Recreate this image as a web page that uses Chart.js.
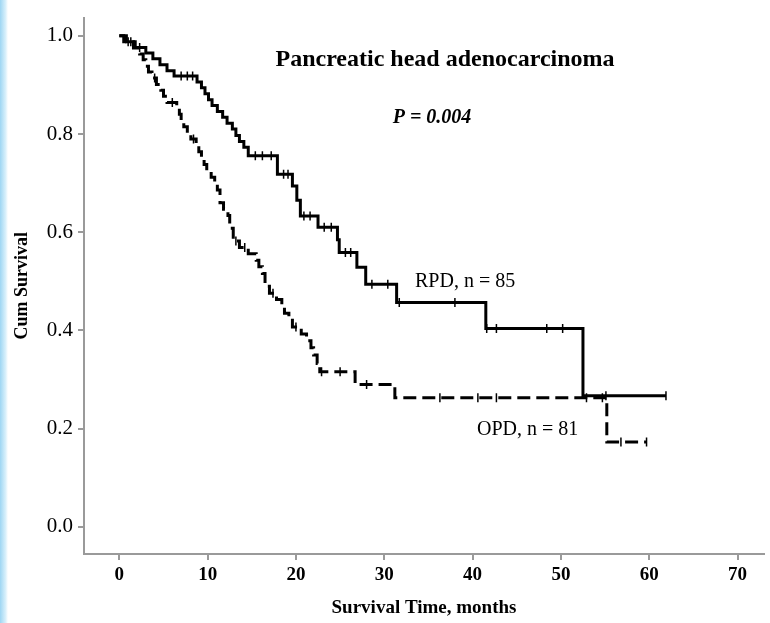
<!DOCTYPE html>
<html>
<head>
<meta charset="utf-8">
<script src="https://cdn.jsdelivr.net/npm/chart.js@4.4.1/dist/chart.umd.min.js"></script>
<style>
  html, body { margin: 0; padding: 0; background: #fff; }
  #wrap { position: relative; width: 770px; height: 623px; overflow: hidden; }
  #strip { position: absolute; left: 0; top: 0; width: 8px; height: 623px;
           background: linear-gradient(to right, #9ed6f3, #d9f0fb 70%, #ffffff); }
</style>
</head>
<body>
<div id="wrap">
  <canvas id="km" width="770" height="623"></canvas>
  <div id="strip"></div>
</div>
<script>
// RPD (solid) – event times (months) and survival after each event
const rpdTime = [0.5, 1.8, 3.0, 3.8, 4.6, 5.4, 6.2, 8.8, 9.3, 9.7, 10.1, 10.5, 11.1, 11.7, 12.2, 12.8,
                 13.2, 13.6, 14.1, 14.6, 17.9, 19.6, 20.1, 20.5, 22.5, 24.7, 24.9, 26.9, 27.9, 31.4, 41.5, 52.5];
const rpdSurv = [0.988, 0.976, 0.965, 0.953, 0.941, 0.929, 0.918, 0.906, 0.894, 0.882, 0.870, 0.858, 0.846, 0.834, 0.822, 0.810,
                 0.797, 0.785, 0.773, 0.756, 0.718, 0.694, 0.665, 0.633, 0.610, 0.585, 0.559, 0.529, 0.494, 0.457, 0.404, 0.267];
const rpdEnd = 61.9;
const rpdCensor = [1.0, 2.3, 7.0, 7.7, 8.3, 15.4, 16.2, 17.2, 18.6, 19.1, 20.9, 21.6, 23.2, 24.0, 25.6, 26.2,
                   28.6, 30.4, 31.7, 38.0, 41.6, 42.7, 48.4, 50.2, 55.1, 61.9];

// OPD (dashed)
const opdTime = [0.8, 1.6, 2.3, 2.7, 3.0, 3.3, 3.7, 4.2, 4.7, 5.0, 5.4, 6.5, 6.8, 7.0, 7.3, 7.7, 8.1, 8.7,
                 9.0, 9.3, 9.6, 9.9, 10.4, 10.8, 11.1, 11.4, 11.8, 12.3, 12.5, 12.9, 13.6, 14.6, 15.5, 15.8,
                 16.2, 16.5, 17.0, 17.8, 18.4, 18.7, 19.2, 19.6, 20.6, 21.2, 21.7, 22.0, 22.4, 22.7, 26.7, 31.2, 55.2];
const opdSurv = [0.988, 0.975, 0.963, 0.951, 0.938, 0.926, 0.914, 0.901, 0.889, 0.877, 0.864, 0.852, 0.840, 0.827, 0.815, 0.802, 0.790, 0.777,
                 0.764, 0.751, 0.738, 0.725, 0.712, 0.699, 0.686, 0.660, 0.647, 0.634, 0.608, 0.582, 0.569, 0.556, 0.543, 0.530,
                 0.516, 0.490, 0.476, 0.463, 0.449, 0.435, 0.421, 0.407, 0.393, 0.379, 0.365, 0.350, 0.333, 0.316, 0.290, 0.263, 0.173];
const opdEnd = 59.7;
const opdCensor = [1.3, 4.0, 6.0, 8.4, 13.2, 14.2, 17.4, 20.0, 22.9, 25.0, 28.0, 36.3, 40.6, 42.7, 52.9, 54.7, 56.8, 59.7];

const xTicks = [0, 10, 20, 30, 40, 50, 60, 70];
const yTicks = [0.0, 0.2, 0.4, 0.6, 0.8, 1.0];

const serif = '"Liberation Serif", "Times New Roman", serif';

function curve(times, surv, end) {
  const pts = [{ x: 0, y: 1 }];
  times.forEach((t, i) => pts.push({ x: t, y: surv[i] }));
  pts.push({ x: end, y: surv[surv.length - 1] });
  return pts;
}

function survAt(times, surv, t) {
  let s = 1;
  times.forEach((ti, i) => { if (ti <= t) s = surv[i]; });
  return s;
}

function marks(censor, times, surv) {
  return censor.map(t => ({ x: t, y: survAt(times, surv, t) }));
}

const textPlugin = {
  id: 'texts',
  afterDraw(chart) {
    const { ctx } = chart;
    ctx.save();
    ctx.fillStyle = '#000';
    ctx.textAlign = 'center';
    ctx.textBaseline = 'middle';
    ctx.font = 'bold 24px ' + serif;
    ctx.fillText('Pancreatic head adenocarcinoma', 445, 60);
    ctx.font = 'italic bold 20px ' + serif;
    ctx.fillText('P = 0.004', 432, 118);
    ctx.font = '20px ' + serif;
    ctx.textAlign = 'left';
    ctx.fillText('RPD, n = 85', 415, 282);
    ctx.fillText('OPD, n = 81', 477, 430);
    ctx.restore();
  }
};

const commonLine = {
  showLine: true,
  stepped: true,
  pointRadius: 0,
  borderColor: '#000',
  borderWidth: 3,
  fill: false,
  borderCapStyle: 'butt',
  borderJoinStyle: 'miter'
};
const commonMark = {
  showLine: false,
  pointStyle: 'line',
  rotation: 90,
  pointRadius: 4.5,
  pointBorderWidth: 1.5,
  borderColor: '#000',
  backgroundColor: '#000'
};

new Chart(document.getElementById('km').getContext('2d'), {
  type: 'scatter',
  data: {
    datasets: [
      { ...commonLine, label: 'RPD', data: curve(rpdTime, rpdSurv, rpdEnd) },
      { ...commonLine, label: 'OPD', data: curve(opdTime, opdSurv, opdEnd), borderDash: [13, 6] },
      { ...commonMark, label: 'RPD censored', data: marks(rpdCensor, rpdTime, rpdSurv) },
      { ...commonMark, label: 'OPD censored', data: marks(opdCensor, opdTime, opdSurv) }
    ]
  },
  options: {
    responsive: false,
    animation: false,
    layout: { padding: { top: 0, left: 0, right: 0, bottom: 0 } },
    plugins: { legend: { display: false }, tooltip: { enabled: false } },
    scales: {
      x: {
        type: 'linear',
        min: -4,
        max: 73.0,
        afterBuildTicks: s => { s.ticks = xTicks.map(v => ({ value: v })); },
        afterFit: s => { s.height = 69; },
        border: { color: '#9a9a9a', width: 2 },
        grid: { drawOnChartArea: false, drawTicks: true, tickLength: 6, color: '#9a9a9a', lineWidth: 2 },
        ticks: { color: '#000', padding: 4, font: { family: serif, size: 19, weight: 'bold' } },
        title: { display: true, text: 'Survival Time, months', color: '#000', padding: { top: 8 },
                 font: { family: serif, size: 19, weight: 'bold' } }
      },
      y: {
        type: 'linear',
        min: -0.055,
        max: 1.037,
        afterBuildTicks: s => { s.ticks = yTicks.map(v => ({ value: v })); },
        afterFit: s => { s.width = 84; },
        border: { color: '#9a9a9a', width: 2 },
        grid: { drawOnChartArea: false, drawTicks: true, tickLength: 6, color: '#9a9a9a', lineWidth: 2 },
        ticks: { color: '#000', padding: 5, font: { family: serif, size: 21 },
                 callback: v => Number(v).toFixed(1) },
        title: { display: true, text: 'Cum Survival', color: '#000', padding: { top: 12, bottom: 0 },
                 font: { family: serif, size: 18, weight: 'bold' } }
      }
    }
  },
  plugins: [textPlugin]
});
</script>
</body>
</html>
